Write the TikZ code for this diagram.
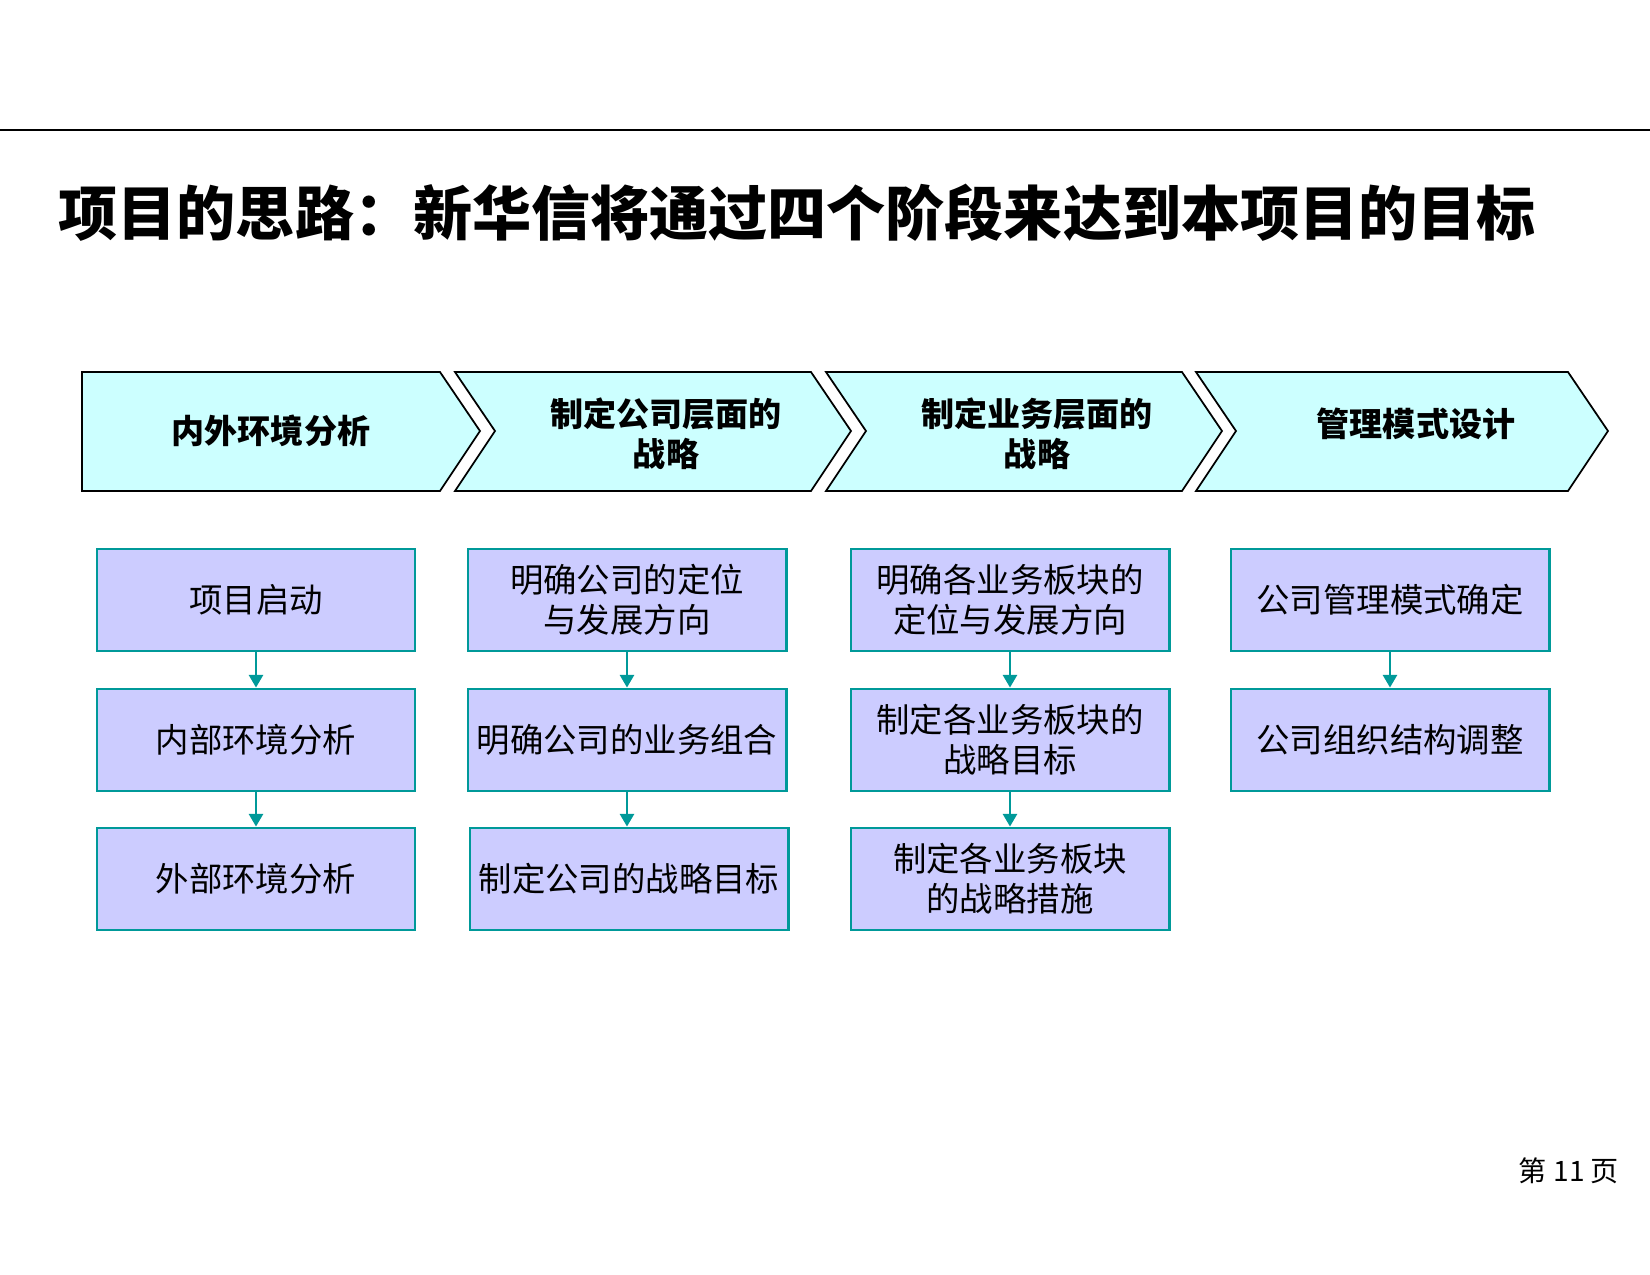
\documentclass[tikz,border=0pt]{standalone}
\usepackage{fontspec}
\setmainfont{Noto Sans CJK SC}
\usetikzlibrary{arrows.meta}
\definecolor{chevfill}{HTML}{CCFFFF}
\definecolor{boxfill}{HTML}{CCCCFF}
\definecolor{boxline}{HTML}{009999}

\begin{document}
\begin{tikzpicture}[x=0.01cm,y=-0.01cm,
  chev/.style={draw=black, fill=chevfill, line width=0.5pt},
  chevtext/.style={align=center, font=\fontsize{9.4}{11.4}\selectfont\bfseries},
  stage/.style={draw=boxline, fill=boxfill, line width=0.8pt, minimum width=3.18cm,
    minimum height=1.02cm, inner sep=0pt, align=center, font=\fontsize{9.5}{11.4}\selectfont},
  flow/.style={draw=boxline, line width=0.7pt, -{Triangle[width=4pt,length=3.6pt]}}]
\useasboundingbox (0,0) rectangle (1650,1275);
% top rule and title
\draw[line width=0.6pt] (0,130) -- (1650,130);
\node[anchor=west, inner sep=0pt, font=\fontsize{16.8}{20}\selectfont\bfseries] (title) at (58,213)
  {项目的思路：新华信将通过四个阶段来达到本项目的目标};
% the four phases
\draw[chev] (82,372) -- (440,372) -- (480,431) -- (440,491) -- (82,491) -- cycle;
\draw[chev] (455,372) -- (811,372) -- (851,431) -- (811,491) -- (455,491) -- (495,431) -- cycle;
\draw[chev] (826,372) -- (1182,372) -- (1222,431) -- (1182,491) -- (826,491) -- (866,431) -- cycle;
\draw[chev] (1196,372) -- (1568,372) -- (1608,431) -- (1568,491) -- (1196,491) -- (1236,431) -- cycle;
\node[chevtext] (p1) at (271,431) {内外环境分析};
\node[chevtext] (p2) at (666,434) {制定公司层面的\\战略};
\node[chevtext] (p3) at (1037,434) {制定业务层面的\\战略};
\node[chevtext] (p4) at (1416,424) {管理模式设计};
% 1st column
\node[stage] (a1) at (256,600) {项目启动};
\node[stage] (a2) at (256,740) {内部环境分析};
\node[stage] (a3) at (256,879) {外部环境分析};
% 2nd column
\node[stage] (b1) at (627,600) {明确公司的定位\\与发展方向};
\node[stage] (b2) at (627,740) {明确公司的业务组合};
\node[stage] (b3) at (629,879) {制定公司的战略目标};
% 3rd column
\node[stage] (c1) at (1010,600) {明确各业务板块的\\定位与发展方向};
\node[stage] (c2) at (1010,740) {制定各业务板块的\\战略目标};
\node[stage] (c3) at (1010,879) {制定各业务板块\\的战略措施};
% 4th column
\node[stage] (d1) at (1390,600) {公司管理模式确定};
\node[stage] (d2) at (1390,740) {公司组织结构调整};
% the arrows
\draw[flow] (a1) -- (a2);
\draw[flow] (a2) -- (a3);
\draw[flow] (b1) -- (b2);
\draw[flow] (b2.south) -- (b3.north -| b2.south);
\draw[flow] (c1) -- (c2);
\draw[flow] (c2) -- (c3);
\draw[flow] (d1) -- (d2);
% page number
\node[font=\fontsize{8}{10}\selectfont] (page) at (1569,1171) {第 11 页};
\end{tikzpicture}
\end{document}
